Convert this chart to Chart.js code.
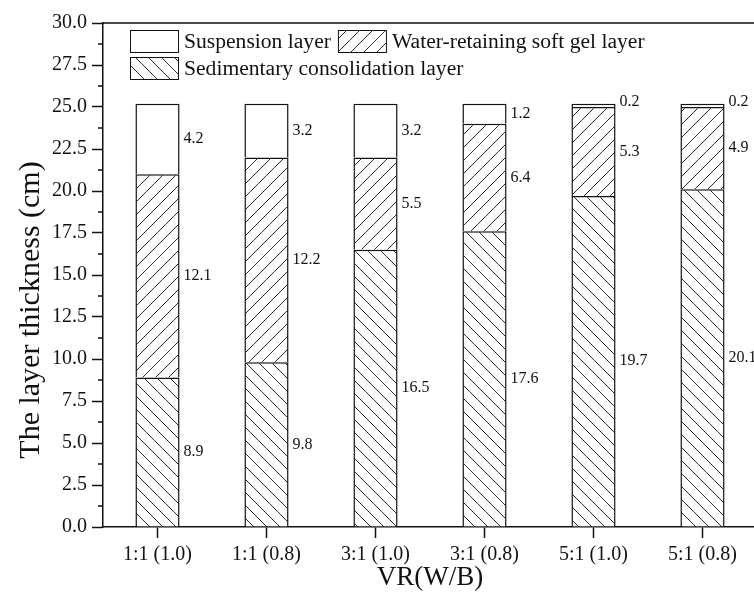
<!DOCTYPE html>
<html>
<head>
<meta charset="utf-8">
<script src="https://cdn.jsdelivr.net/npm/chart.js@4.4.1/dist/chart.umd.min.js"></script>
<style>
html, body { margin: 0; padding: 0; overflow: hidden; background: #ffffff; }
#wrap { width: 770px; height: 594px; }
</style>
</head>
<body>
<div id="wrap"><canvas id="c" width="770" height="594"></canvas></div>
<script>
// ---- data ----
const categories = ['1:1 (1.0)', '1:1 (0.8)', '3:1 (1.0)', '3:1 (0.8)', '5:1 (1.0)', '5:1 (0.8)'];
const sedimentary = [8.9, 9.8, 16.5, 17.6, 19.7, 20.1];
const waterRetaining = [12.1, 12.2, 5.5, 6.4, 5.3, 4.9];
const suspension = [4.2, 3.2, 3.2, 1.2, 0.2, 0.2];
const seriesNames = ['Sedimentary consolidation layer', 'Water-retaining soft gel layer', 'Suspension layer'];
const yMin = 0, yMax = 30, yStep = 2.5;
const xTitle = 'VR(W/B)';
const yTitle = 'The layer thickness (cm)';

const SERIF = '"Liberation Serif", "DejaVu Serif", serif';
const INK = '#111111';

function hatch(dir) {
  const s = 13;
  const cv = document.createElement('canvas');
  cv.width = s; cv.height = s;
  const g = cv.getContext('2d');
  g.fillStyle = '#ffffff';
  g.fillRect(0, 0, s, s);
  g.strokeStyle = '#2a2a2a';
  g.lineWidth = 1;
  g.beginPath();
  if (dir === 'fwd') {
    g.moveTo(-1, s + 1); g.lineTo(s + 1, -1);
    g.moveTo(-2, 2); g.lineTo(2, -2);
    g.moveTo(s - 2, s + 2); g.lineTo(s + 2, s - 2);
  } else {
    g.moveTo(-1, -1); g.lineTo(s + 1, s + 1);
    g.moveTo(-2, s - 2); g.lineTo(2, s + 2);
    g.moveTo(s - 2, -2); g.lineTo(s + 2, 2);
  }
  g.stroke();
  return document.getElementById('c').getContext('2d').createPattern(cv, 'repeat');
}
const fillSed = hatch('back');
const fillWater = hatch('fwd');
const fillSusp = '#ffffff';

const valueLabels = {
  id: 'valueLabels',
  afterDatasetsDraw(chart) {
    const ctx = chart.ctx;
    ctx.save();
    ctx.font = '16px ' + SERIF;
    ctx.fillStyle = INK;
    ctx.textAlign = 'left';
    ctx.textBaseline = 'middle';
    chart.data.datasets.forEach((ds, di) => {
      const meta = chart.getDatasetMeta(di);
      meta.data.forEach((el, i) => {
        const v = ds.data[i];
        const x = el.x + el.width / 2 + 4;
        let y = (el.y + el.base) / 2;
        if (Math.abs(el.base - el.y) < 8) y = el.y - 2;
        ctx.fillText(v.toFixed(1), x, y);
      });
    });
    ctx.restore();
  }
};

const frameAndMinor = {
  id: 'frameAndMinor',
  afterDraw(chart) {
    const ctx = chart.ctx;
    const a = chart.chartArea;
    const ys = chart.scales.y;
    ctx.save();
    ctx.strokeStyle = INK;
    ctx.lineWidth = 1.5;
    ctx.beginPath();
    ctx.moveTo(a.left, a.top);
    ctx.lineTo(a.right, a.top);
    for (let v = yMin + yStep / 2; v < yMax; v += yStep) {
      const y = ys.getPixelForValue(v);
      ctx.moveTo(a.left - 5, y);
      ctx.lineTo(a.left, y);
    }
    ctx.stroke();
    ctx.restore();
  }
};

const yAxisTitle = {
  id: 'yAxisTitle',
  afterDraw(chart) {
    const o = chart.options.plugins.yAxisTitle;
    const a = chart.chartArea;
    const ctx = chart.ctx;
    ctx.save();
    ctx.translate(o.x, (a.top + a.bottom) / 2 + o.shift);
    ctx.rotate(-Math.PI / 2);
    ctx.font = o.size + 'px ' + SERIF;
    ctx.fillStyle = INK;
    ctx.textAlign = 'center';
    ctx.textBaseline = 'middle';
    ctx.fillText(o.text, 0, 0);
    ctx.restore();
  }
};

const boxLegend = {
  id: 'boxLegend',
  afterDraw(chart) {
    const ctx = chart.ctx;
    const a = chart.chartArea;
    const o = chart.options.plugins.boxLegend;
    const ds = chart.data.datasets;
    const rows = [[2, 1], [0]];
    ctx.save();
    ctx.font = o.fontSize + 'px ' + SERIF;
    ctx.textBaseline = 'middle';
    ctx.textAlign = 'left';
    rows.forEach((row, r) => {
      let x = a.left + o.offsetX;
      const y = a.top + o.offsetY + r * (o.boxH + o.rowGap);
      row.forEach(di => {
        ctx.fillStyle = ds[di].backgroundColor;
        ctx.fillRect(x, y, o.boxW, o.boxH);
        ctx.strokeStyle = INK;
        ctx.lineWidth = 1;
        ctx.strokeRect(x + 0.5, y + 0.5, o.boxW, o.boxH);
        ctx.fillStyle = INK;
        const tx = x + o.boxW + 6;
        ctx.fillText(ds[di].label, tx, y + o.boxH / 2 + 1);
        x = tx + ctx.measureText(ds[di].label).width + 7;
      });
    });
    ctx.restore();
  }
};

new Chart(document.getElementById('c'), {
  type: 'bar',
  data: {
    labels: categories,
    datasets: [
      { label: seriesNames[0], data: sedimentary, backgroundColor: fillSed },
      { label: seriesNames[1], data: waterRetaining, backgroundColor: fillWater },
      { label: seriesNames[2], data: suspension, backgroundColor: fillSusp }
    ]
  },
  options: {
    responsive: false,
    animation: false,
    layout: { padding: { top: 23, right: 13, left: 0, bottom: 0 } },
    datasets: {
      bar: {
        borderColor: INK,
        borderWidth: 1.5,
        categoryPercentage: 1,
        barPercentage: 0.405
      }
    },
    plugins: {
      legend: { display: false },
      tooltip: { enabled: false },
      boxLegend: { offsetX: 27, offsetY: 7, boxW: 48, boxH: 22, rowGap: 5, fontSize: 21.6 },
      yAxisTitle: { text: yTitle, x: 31, shift: 35, size: 30 }
    },
    scales: {
      x: {
        stacked: true,
        offset: true,
        grid: { offset: false, drawOnChartArea: false, tickLength: 11, tickColor: INK, tickWidth: 1.5 },
        border: { display: true, color: INK, width: 1.5 },
        ticks: { color: INK, font: { family: SERIF, size: 20 }, padding: 5, maxRotation: 0 },
        title: { display: true, text: xTitle, color: INK, font: { family: SERIF, size: 27 }, padding: { top: -2, bottom: 0 } },
        afterFit(s) { s.height = 67; }
      },
      y: {
        stacked: true,
        min: yMin,
        max: yMax,
        grid: { drawOnChartArea: false, tickLength: 11, tickColor: INK, tickWidth: 1.5 },
        border: { display: true, color: INK, width: 1.5 },
        ticks: { stepSize: yStep, color: INK, font: { family: SERIF, size: 20 }, padding: 5,
                 callback: v => Number(v).toFixed(1) },
        title: { display: false, text: yTitle },
        afterFit(s) { s.width = 103; }
      }
    }
  },
  plugins: [valueLabels, frameAndMinor, boxLegend, yAxisTitle]
});
</script>
</body>
</html>
